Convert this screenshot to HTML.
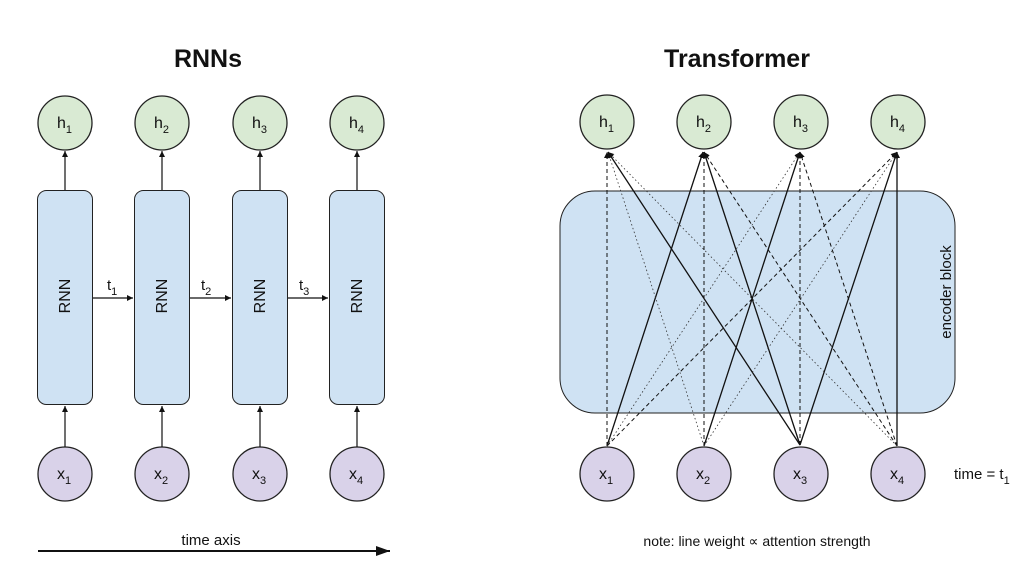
<!DOCTYPE html>
<html><head><meta charset="utf-8"><style>
body{margin:0;background:#fff}
svg{display:block}
text{font-family:"Liberation Sans",sans-serif;fill:#111}
</style></head><body>
<svg width="1024" height="581" viewBox="0 0 1024 581" xmlns="http://www.w3.org/2000/svg">
<defs>
<marker id="a" markerWidth="8" markerHeight="8" refX="6" refY="3" orient="auto" markerUnits="userSpaceOnUse"><path d="M0,0 L6,3 L0,6 z" fill="#111"/></marker>
<marker id="b" markerWidth="16" markerHeight="12" refX="14" refY="5" orient="auto" markerUnits="userSpaceOnUse"><path d="M0,0 L14,5 L0,10 z" fill="#111"/></marker>
</defs>
<text x="208" y="67" font-size="25" font-weight="bold" text-anchor="middle">RNNs</text>
<text x="737" y="67" font-size="25" font-weight="bold" text-anchor="middle">Transformer</text>

<!-- RNN side -->
<g stroke="#222" stroke-width="1">
<rect x="37.5" y="190.5" width="55" height="214" rx="9" fill="#cfe2f3"/>
<rect x="134.5" y="190.5" width="55" height="214" rx="9" fill="#cfe2f3"/>
<rect x="232.5" y="190.5" width="55" height="214" rx="9" fill="#cfe2f3"/>
<rect x="329.5" y="190.5" width="55" height="214" rx="9" fill="#cfe2f3"/>
</g>
<g stroke="#222" stroke-width="1.3" fill="#d9ead3">
<circle cx="65" cy="123" r="27"/><circle cx="162" cy="123" r="27"/><circle cx="260" cy="123" r="27"/><circle cx="357" cy="123" r="27"/>
</g>
<g stroke="#222" stroke-width="1.3" fill="#d9d2e9">
<circle cx="65" cy="474" r="27"/><circle cx="162" cy="474" r="27"/><circle cx="260" cy="474" r="27"/><circle cx="357" cy="474" r="27"/>
</g>
<g stroke="#111" stroke-width="1.2" marker-end="url(#a)">
<line x1="65" y1="190" x2="65" y2="151"/><line x1="162" y1="190" x2="162" y2="151"/><line x1="260" y1="190" x2="260" y2="151"/><line x1="357" y1="190" x2="357" y2="151"/>
<line x1="65" y1="447" x2="65" y2="406"/><line x1="162" y1="447" x2="162" y2="406"/><line x1="260" y1="447" x2="260" y2="406"/><line x1="357" y1="447" x2="357" y2="406"/>
<line x1="93" y1="298" x2="133" y2="298"/><line x1="190" y1="298" x2="231" y2="298"/><line x1="288" y1="298" x2="328" y2="298"/>
</g>
<g font-size="16" text-anchor="middle">
<text x="65" y="301" transform="rotate(-90 65 296)">RNN</text>
<text x="162" y="301" transform="rotate(-90 162 296)">RNN</text>
<text x="260" y="301" transform="rotate(-90 260 296)">RNN</text>
<text x="357" y="301" transform="rotate(-90 357 296)">RNN</text>
</g>
<g font-size="15">
<text x="107" y="290">t<tspan font-size="11" dy="5">1</tspan></text>
<text x="201" y="290">t<tspan font-size="11" dy="5">2</tspan></text>
<text x="299" y="290">t<tspan font-size="11" dy="5">3</tspan></text>
</g>
<g font-size="16">
<text x="57" y="128">h<tspan font-size="11" dy="5">1</tspan></text>
<text x="154" y="128">h<tspan font-size="11" dy="5">2</tspan></text>
<text x="252" y="128">h<tspan font-size="11" dy="5">3</tspan></text>
<text x="349" y="128">h<tspan font-size="11" dy="5">4</tspan></text>
<text x="57" y="479">x<tspan font-size="11" dy="5">1</tspan></text>
<text x="154" y="479">x<tspan font-size="11" dy="5">2</tspan></text>
<text x="252" y="479">x<tspan font-size="11" dy="5">3</tspan></text>
<text x="349" y="479">x<tspan font-size="11" dy="5">4</tspan></text>
</g>
<line x1="38" y1="551" x2="390" y2="551" stroke="#111" stroke-width="2" marker-end="url(#b)"/>
<text x="211" y="545" font-size="15" text-anchor="middle">time axis</text>

<!-- Transformer side -->
<rect x="560" y="191" width="395" height="222" rx="35" fill="#cfe2f3" stroke="#222" stroke-width="1"/>
<text x="951" y="302" font-size="15" text-anchor="middle" transform="rotate(-90 946 297)">encoder block</text>
<g fill="none" stroke="#111" marker-end="url(#a)">
<!-- solid -->
<g stroke-width="1.3">
<line x1="607" y1="446" x2="703" y2="152"/>
<line x1="704" y1="446" x2="800" y2="152"/>
<line x1="800" y1="445" x2="608" y2="152"/>
<line x1="800" y1="445" x2="704" y2="152"/>
<line x1="800" y1="445" x2="897" y2="152"/>
<line x1="897" y1="446" x2="897" y2="152"/>
</g>
<!-- dashed -->
<g stroke-width="1" stroke-dasharray="4,3">
<line x1="607" y1="446" x2="607" y2="152"/>
<line x1="607" y1="446" x2="897" y2="152"/>
<line x1="704" y1="446" x2="704" y2="152"/>
<line x1="800" y1="445" x2="800" y2="152"/>
<line x1="897" y1="446" x2="704" y2="152"/>
<line x1="897" y1="446" x2="800" y2="152"/>
</g>
<!-- dotted -->
<g stroke-width="0.8" stroke-dasharray="1.5,2.5" stroke="#333">
<line x1="607" y1="446" x2="800" y2="152"/>
<line x1="704" y1="446" x2="608" y2="152"/>
<line x1="704" y1="446" x2="897" y2="152"/>
<line x1="897" y1="446" x2="608" y2="152"/>
</g>
</g>
<g stroke="#222" stroke-width="1.3" fill="#d9ead3">
<circle cx="607" cy="122" r="27"/><circle cx="704" cy="122" r="27"/><circle cx="801" cy="122" r="27"/><circle cx="898" cy="122" r="27"/>
</g>
<g stroke="#222" stroke-width="1.3" fill="#d9d2e9">
<circle cx="607" cy="474" r="27"/><circle cx="704" cy="474" r="27"/><circle cx="801" cy="474" r="27"/><circle cx="898" cy="474" r="27"/>
</g>
<g font-size="16">
<text x="599" y="127">h<tspan font-size="11" dy="5">1</tspan></text>
<text x="696" y="127">h<tspan font-size="11" dy="5">2</tspan></text>
<text x="793" y="127">h<tspan font-size="11" dy="5">3</tspan></text>
<text x="890" y="127">h<tspan font-size="11" dy="5">4</tspan></text>
<text x="599" y="479">x<tspan font-size="11" dy="5">1</tspan></text>
<text x="696" y="479">x<tspan font-size="11" dy="5">2</tspan></text>
<text x="793" y="479">x<tspan font-size="11" dy="5">3</tspan></text>
<text x="890" y="479">x<tspan font-size="11" dy="5">4</tspan></text>
</g>
<text x="954" y="479" font-size="15">time = t<tspan font-size="11" dy="5">1</tspan></text>
<text x="757" y="546" font-size="14" text-anchor="middle">note: line weight ∝ attention strength</text>
</svg>
</body></html>
